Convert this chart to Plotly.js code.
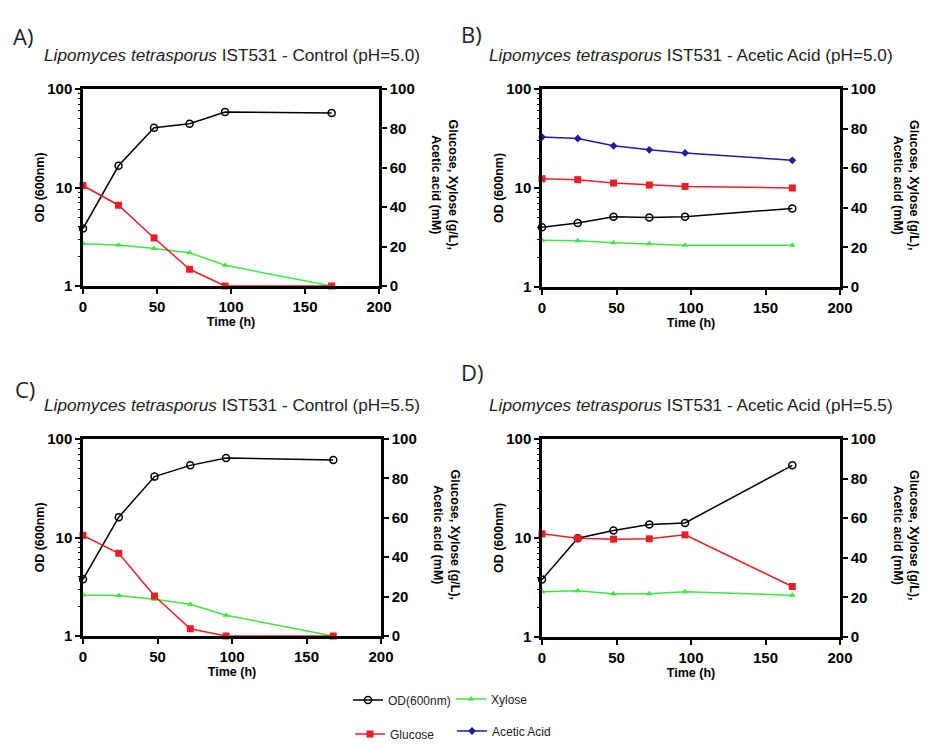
<!DOCTYPE html>
<html>
<head>
<meta charset="utf-8">
<script src="https://cdn.plot.ly/plotly-3.0.1.min.js"></script>
<style>html,body{margin:0;padding:0;background:#fff;}#chart{width:934px;height:744px;}</style>
</head>
<body>
<div id="chart"></div>
<script>
// ---- Data ----
const time = [0, 24, 48, 72, 96, 168];

// Panel A: Control pH 5.0
const odA  = [3.83, 16.6, 40.4, 44.4, 58.3, 57.0];
const gluA = [51.0, 41.0, 24.4, 8.5, 0, 0];
const xylA = [21.5, 20.8, 19.0, 16.9, 10.5, 0];

// Panel B: Acetic Acid pH 5.0
const odB  = [4.02, 4.42, 5.12, 5.04, 5.12, 6.22];
const gluB = [54.7, 54.2, 52.5, 51.5, 50.8, 50.0];
const xylB = [23.6, 23.3, 22.3, 21.8, 21.1, 21.1];
const aceB = [75.7, 75.0, 71.3, 69.3, 67.7, 64.0];

// Panel C: Control pH 5.5
const odC  = [3.76, 16.1, 41.5, 54.0, 64.1, 61.2];
const gluC = [51.1, 42.0, 20.3, 3.7, 0, 0];
const xylC = [20.8, 20.5, 18.6, 16.1, 10.5, 0];

// Panel D: Acetic Acid pH 5.5
const odD  = [3.80, 9.96, 11.9, 13.7, 14.2, 54.2];
const gluD = [52.1, 49.9, 49.4, 49.6, 51.6, 25.5];
const xylD = [22.8, 23.3, 21.8, 21.9, 22.9, 21.1];

// tick labels
const xTicks = [0, 50, 100, 150, 200];
const odTicks = [1, 10, 100];
const concTicks = [0, 20, 40, 60, 80, 100];

const panelLetters = ['A)', 'B)', 'C)', 'D)'];
const panelTitles = [
  '<i>Lipomyces tetrasporus</i> IST531 - Control (pH=5.0)',
  '<i>Lipomyces tetrasporus</i> IST531 - Acetic Acid (pH=5.0)',
  '<i>Lipomyces tetrasporus</i> IST531 - Control (pH=5.5)',
  '<i>Lipomyces tetrasporus</i> IST531 - Acetic Acid (pH=5.5)'
];
const seriesNames = ['OD(600nm)', 'Glucose', 'Xylose', 'Acetic Acid'];
const leftTitle = '<b>OD (600nm)</b>';
const bottomTitle = '<b>Time (h)</b>';
const rightTitle = '<b>Glucose, Xylose (g/L),</b><br><b>Acetic acid (mM)</b>';

// ---- Styles ----
const W = 934, H = 744;
const FAM = '"Liberation Sans", Arial, Helvetica, sans-serif';
const RED = '#ee1c25', GREEN = '#3ee83e', BLUE = '#1c1ca6', BLACK = '#000';
const styles = {
  od:  {mode:'lines+markers', line:{color:BLACK, width:1.5}, marker:{symbol:'circle-open', size:7, color:BLACK, line:{width:1.5, color:BLACK}}},
  glu: {mode:'lines+markers', line:{color:RED, width:1.5}, marker:{symbol:'square', size:7, color:RED}},
  xyl: {mode:'lines+markers', line:{color:GREEN, width:1.5}, marker:{symbol:'triangle-up', size:6, color:GREEN}},
  ace: {mode:'lines+markers', line:{color:BLUE, width:1.5}, marker:{symbol:'diamond', size:6, color:BLUE}}
};

// panel pixel boxes [left, right, top, bottom]
const boxes = [
  [83, 379, 89, 286],
  [542, 840, 89, 287],
  [83, 381, 439, 636],
  [542, 840, 439, 637]
];

function mk(x, y, xa, ya, name, st, legend, show) {
  return Object.assign({x: x, y: y, xaxis: xa, yaxis: ya, name: name, legend: legend,
    showlegend: show, cliponaxis: false, hoverinfo: 'x+y+name'}, JSON.parse(JSON.stringify(st)));
}

const traces = [];
// panel A
traces.push(mk(time, xylA, 'x', 'y2', seriesNames[2], styles.xyl, 'legend3', true));
traces.push(mk(time, gluA, 'x', 'y2', seriesNames[1], styles.glu, 'legend2', true));
traces.push(mk(time, odA, 'x', 'y', seriesNames[0], styles.od, 'legend', true));
// panel B
traces.push(mk(time, aceB, 'x2', 'y4', seriesNames[3], styles.ace, 'legend4', true));
traces.push(mk(time, xylB, 'x2', 'y4', seriesNames[2], styles.xyl, 'legend3', false));
traces.push(mk(time, gluB, 'x2', 'y4', seriesNames[1], styles.glu, 'legend2', false));
traces.push(mk(time, odB, 'x2', 'y3', seriesNames[0], styles.od, 'legend', false));
// panel C
traces.push(mk(time, xylC, 'x3', 'y6', seriesNames[2], styles.xyl, 'legend3', false));
traces.push(mk(time, gluC, 'x3', 'y6', seriesNames[1], styles.glu, 'legend2', false));
traces.push(mk(time, odC, 'x3', 'y5', seriesNames[0], styles.od, 'legend', false));
// panel D
traces.push(mk(time, xylD, 'x4', 'y8', seriesNames[2], styles.xyl, 'legend3', false));
traces.push(mk(time, gluD, 'x4', 'y8', seriesNames[1], styles.glu, 'legend2', false));
traces.push(mk(time, odD, 'x4', 'y7', seriesNames[0], styles.od, 'legend', false));

const tickFont = {family: FAM, size: 15, color: BLACK};
const titleFont = {family: FAM, size: 12.5, color: BLACK};
const bold = arr => arr.map(v => '<b>' + v + '</b>');

const layout = {
  width: W, height: H,
  margin: {l:0, r:0, t:0, b:0, autoexpand: false},
  paper_bgcolor: '#fff', plot_bgcolor: 'rgba(0,0,0,0)',
  showlegend: true,
  font: {family: FAM, color: BLACK},
  annotations: [],
  hovermode: 'closest'
};

const ids = [['', '', '2'], ['2', '3', '4'], ['3', '5', '6'], ['4', '7', '8']];
boxes.forEach((b, i) => {
  const xd = [b[0] / W, b[1] / W];
  const yd = [1 - b[3] / H, 1 - b[2] / H];
  const [xi, yl, yr] = ids[i];
  const xRef = 'x' + xi, ylRef = 'y' + yl;
  layout['xaxis' + xi] = {
    domain: xd, anchor: ylRef, range: [0, 200], tickmode: 'array', tickvals: xTicks, ticktext: bold(xTicks),
    showline: true, linewidth: 2.5, linecolor: BLACK, mirror: true,
    ticks: 'outside', ticklen: 5, tickwidth: 2, tickcolor: BLACK,
    showgrid: false, zeroline: false, tickfont: tickFont,
    title: {text: bottomTitle, font: titleFont, standoff: 3}
  };
  layout['yaxis' + yl] = {
    domain: yd, anchor: xRef, type: 'log', range: [0, 2], tickmode: 'array', tickvals: odTicks, ticktext: bold(odTicks),
    showline: true, linewidth: 2.5, linecolor: BLACK,
    ticks: 'outside', ticklen: 5, tickwidth: 2, tickcolor: BLACK,
    minor: {ticks: 'outside', ticklen: 2.5, tickwidth: 1, tickcolor: BLACK, tickvals: [2,3,4,5,6,7,8,9,20,30,40,50,60,70,80,90]},
    showgrid: false, zeroline: false, tickfont: tickFont,
    title: {text: leftTitle, font: titleFont, standoff: 0}
  };
  layout['yaxis' + yr] = {
    overlaying: ylRef, anchor: xRef, side: 'right', range: [0, 100], tickmode: 'array',
    tickvals: concTicks, ticktext: bold(concTicks),
    showline: true, linewidth: 2.5, linecolor: BLACK,
    ticks: 'outside', ticklen: 5, tickwidth: 2, tickcolor: BLACK,
    showgrid: false, zeroline: false, tickfont: tickFont
  };
  // right axis title (rotated clockwise)
  layout.annotations.push({
    xref: 'paper', yref: 'paper', x: (b[1] + 66) / W, y: 1 - ((b[2] + b[3]) / 2 - 3) / H,
    xanchor: 'center', yanchor: 'middle', text: rightTitle, textangle: 90, showarrow: false,
    font: titleFont
  });
  // panel title
  const titleY = i < 2 ? 55 : 405;
  const titleX = i % 2 === 0 ? 232 : 691;
  layout.annotations.push({
    xref: 'paper', yref: 'paper', x: titleX / W, y: 1 - titleY / H, xanchor: 'center', yanchor: 'middle',
    text: panelTitles[i], showarrow: false,
    font: {family: FAM, size: 17.2, color: '#222'}
  });
  // panel letter
  const letterPos = [[11, 36], [459, 34], [13, 389], [459, 372]][i];
  layout.annotations.push({
    xref: 'paper', yref: 'paper', x: letterPos[0] / W, y: 1 - letterPos[1] / H, xanchor: 'left', yanchor: 'middle',
    text: panelLetters[i], showarrow: false,
    font: {family: '"Open Sans", "Noto Sans", sans-serif', size: 22, color: '#222'}
  });
});

const legFont = {family: FAM, size: 12, color: '#222'};
function leg(px, py) {
  return {x: px / W, y: 1 - py / H, xanchor: 'left', yanchor: 'middle', bgcolor: 'rgba(0,0,0,0)',
    borderwidth: 0, font: legFont, itemwidth: 30};
}
layout.legend = leg(348, 700);
layout.legend2 = leg(350, 734);
layout.legend3 = leg(451, 699);
layout.legend4 = leg(452, 731);

Plotly.newPlot('chart', traces, layout, {displayModeBar: false});
</script>
</body>
</html>
